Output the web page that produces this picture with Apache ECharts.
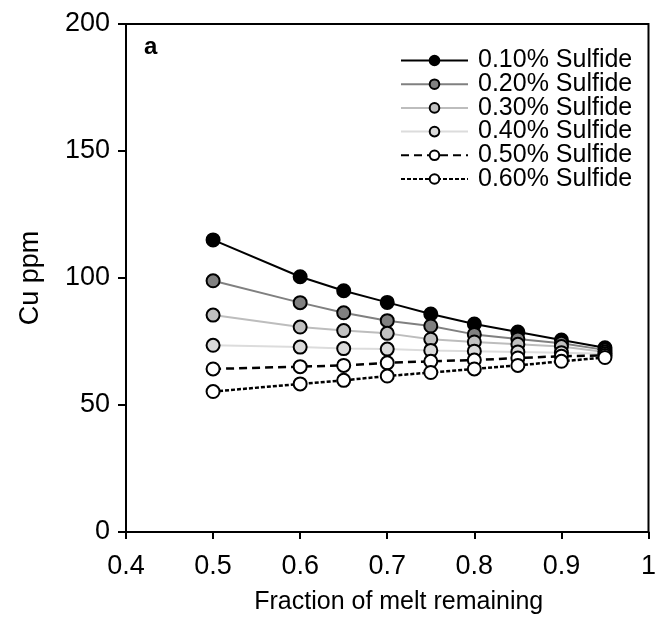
<!DOCTYPE html>
<html>
<head>
<meta charset="utf-8">
<script src="https://cdn.jsdelivr.net/npm/echarts@6/dist/echarts.min.js"></script>
<style>
html,body{margin:0;padding:0;background:#fff;}
#chart{width:659px;height:629px;}
</style>
</head>
<body>
<div id="chart"></div>
<script>
var fractions = [0.5, 0.6, 0.65, 0.7, 0.75, 0.8, 0.85, 0.9, 0.95];
var sulfide010 = [115, 100.5, 95, 90.4, 85.8, 81.9, 78.7, 75.6, 72.5];
var sulfide020 = [98.9, 90.3, 86.3, 83.2, 81.1, 77.8, 76, 74.3, 71.7];
var sulfide030 = [85.4, 80.7, 79.3, 78.2, 75.9, 74.8, 73.9, 73, 70.9];
var sulfide040 = [73.5, 72.8, 72.2, 72.0, 71.5, 71.2, 70.9, 70.6, 70.2];
var sulfide050 = [64.2, 65.1, 65.6, 66.6, 67.2, 67.7, 68.5, 69.2, 69.5];
var sulfide060 = [55.3, 58.3, 59.7, 61.4, 62.8, 64.2, 65.6, 67.2, 68.7];
var seriesNames = ['0.10% Sulfide', '0.20% Sulfide', '0.30% Sulfide', '0.40% Sulfide', '0.50% Sulfide', '0.60% Sulfide'];
var xTicks = [0.4, 0.5, 0.6, 0.7, 0.8, 0.9, 1];
var yTicks = [0, 50, 100, 150, 200];

var FONT = "'Liberation Sans', Arial, sans-serif";
var allValues = [sulfide010, sulfide020, sulfide030, sulfide040, sulfide050, sulfide060];
var styles = [
  {fill: '#000000', line: '#000000', type: 'solid', w: 2},
  {fill: '#808080', line: '#808080', type: 'solid', w: 2},
  {fill: '#c0c0c0', line: '#bdbdbd', type: 'solid', w: 2},
  {fill: '#dadada', line: '#dcdcdc', type: 'solid', w: 2},
  {fill: '#ffffff', line: '#000000', type: [8, 5], w: 2.5},
  {fill: '#ffffff', line: '#000000', type: [4, 2], w: 2.5}
];

function pairs(vals) {
  return fractions.map(function (x, i) { return [x, vals[i]]; });
}

var series = allValues.map(function (vals, k) {
  return {
    name: seriesNames[k],
    type: 'line',
    data: pairs(vals),
    symbol: 'circle',
    symbolSize: 13,
    lineStyle: {color: styles[k].line, width: styles[k].w, type: styles[k].type},
    itemStyle: {color: styles[k].fill, borderColor: '#000', borderWidth: 2},
    emphasis: {disabled: true},
    animation: false,
    z: 2 + k
  };
});

var chart = echarts.init(document.getElementById('chart'), null, {renderer: 'canvas'});
chart.setOption({
  backgroundColor: '#fff',
  animation: false,
  title: {
    text: 'a', left: 144, top: 35, padding: 0,
    textStyle: {fontFamily: FONT, fontWeight: 'bold', fontSize: 24, color: '#000'}
  },
  grid: {left: 126, right: 10, top: 24, bottom: 97, show: true, borderColor: '#000', borderWidth: 2, backgroundColor: 'transparent'},
  xAxis: {
    type: 'value', min: xTicks[0], max: xTicks[xTicks.length - 1], interval: 0.1,
    name: 'Fraction of melt remaining', nameLocation: 'middle', nameGap: 58,
    nameTextStyle: {fontFamily: FONT, fontSize: 25, color: '#000', padding: [0, 0, 0, 23]},
    axisLine: {lineStyle: {color: '#000', width: 2}},
    axisTick: {show: true, length: 7, lineStyle: {color: '#000', width: 2}},
    axisLabel: {fontFamily: FONT, fontSize: 27, color: '#000', margin: 21,
      formatter: function (v) { var r = Math.round(v * 10) / 10; return r === 1 ? '1' : r.toFixed(1); }},
    splitLine: {show: false}
  },
  yAxis: {
    type: 'value', min: yTicks[0], max: yTicks[yTicks.length - 1], interval: 50,
    name: 'Cu ppm', nameLocation: 'middle', nameGap: 82,
    nameTextStyle: {fontFamily: FONT, fontSize: 27, color: '#000'},
    axisLine: {lineStyle: {color: '#000', width: 2}},
    axisTick: {show: true, length: 8, lineStyle: {color: '#000', width: 2}},
    axisLabel: {fontFamily: FONT, fontSize: 27, color: '#000', margin: 16},
    splitLine: {show: false}
  },
  legend: {
    orient: 'vertical', left: 400, top: 48, padding: 0,
    itemWidth: 67, itemHeight: 12, itemGap: -1.3,
    textStyle: {fontFamily: FONT, fontSize: 25, color: '#000', lineHeight: 24, padding: [0, 0, 0, 5]},
    selectedMode: false,
    data: seriesNames
  },
  series: series
});
</script>
</body>
</html>
